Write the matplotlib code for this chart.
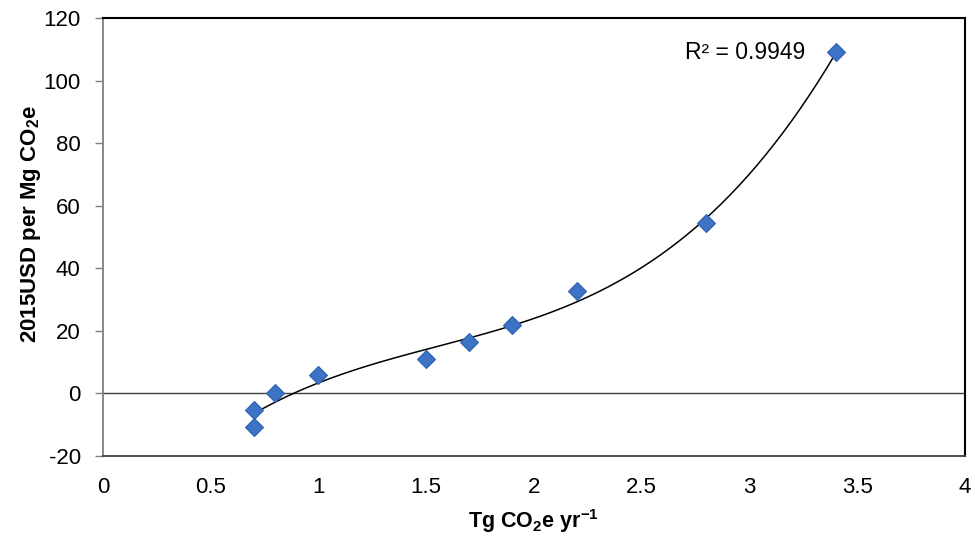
import numpy as np
import matplotlib.pyplot as plt

plt.rcParams['font.family'] = ['Liberation Sans', 'DejaVu Sans']
plt.rcParams['mathtext.fontset'] = 'custom'
plt.rcParams['mathtext.rm'] = 'Liberation Sans'
plt.rcParams['mathtext.bf'] = 'Liberation Sans:bold'

# Data
x_vals = [0.7, 0.7, 0.8, 1.0, 1.5, 1.7, 1.9, 2.2, 2.8, 3.4]
y_vals = [-5.3, -10.7, 0.0, 5.8, 11.0, 16.4, 21.9, 32.7, 54.5, 109.0]
x_ticks = [0, 0.5, 1, 1.5, 2, 2.5, 3, 3.5, 4]
x_tick_labels = ['0', '0.5', '1', '1.5', '2', '2.5', '3', '3.5', '4']
y_ticks = [-20, 0, 20, 40, 60, 80, 100, 120]
y_tick_labels = ['-20', '0', '20', '40', '60', '80', '100', '120']
r2_label = 'R² = 0.9949'

# cubic trend line fitted to the points
coef = np.polyfit(x_vals, y_vals, 3)
xs = np.linspace(min(x_vals), max(x_vals), 200)
ys = np.polyval(coef, xs)

fig = plt.figure(figsize=(9.75, 5.42), dpi=100)
ax = fig.add_axes([0.1056, 0.1587, 0.8841, 0.8081])

ax.axhline(0, color='#404040', lw=1.0, zorder=1)
ax.plot(xs, ys, color='black', lw=1.1, zorder=2)
ax.plot(x_vals, y_vals, linestyle='none', marker='D', markersize=9,
        markerfacecolor='#3d72c4', markeredgecolor='#2e63b0', markeredgewidth=0.8, zorder=3)

ax.text(2.70, 109, r2_label, fontsize=16.5, va='center', ha='left')

ax.set_xlim(0, 4)
ax.set_ylim(-20, 120)
ax.set_xticks(x_ticks)
ax.set_xticklabels(x_tick_labels)
ax.set_yticks(y_ticks)
ax.set_yticklabels(y_tick_labels)
ax.tick_params(axis='x', length=0, pad=15, labelsize=16)
ax.tick_params(axis='y', length=6, width=1, color='#7f7f7f', pad=10, labelsize=16)

ax.spines['left'].set_color('#7f7f7f')
ax.spines['left'].set_linewidth(1.3)
ax.spines['bottom'].set_color('#404040')
ax.spines['bottom'].set_linewidth(1.3)
for side in ['top', 'right']:
    ax.spines[side].set_color('black')
    ax.spines[side].set_linewidth(1.5)

ax.set_xlabel(r'Tg CO$_\mathbf{2}$e yr$^\mathbf{-1}$', fontsize=15.5, fontweight='bold', labelpad=7)
ax.set_ylabel(r'2015USD per Mg CO$_\mathbf{2}$e', fontsize=16, fontweight='bold')
ax.yaxis.set_label_coords(-0.07, 0.53)

fig.savefig('out.png', dpi=100)
